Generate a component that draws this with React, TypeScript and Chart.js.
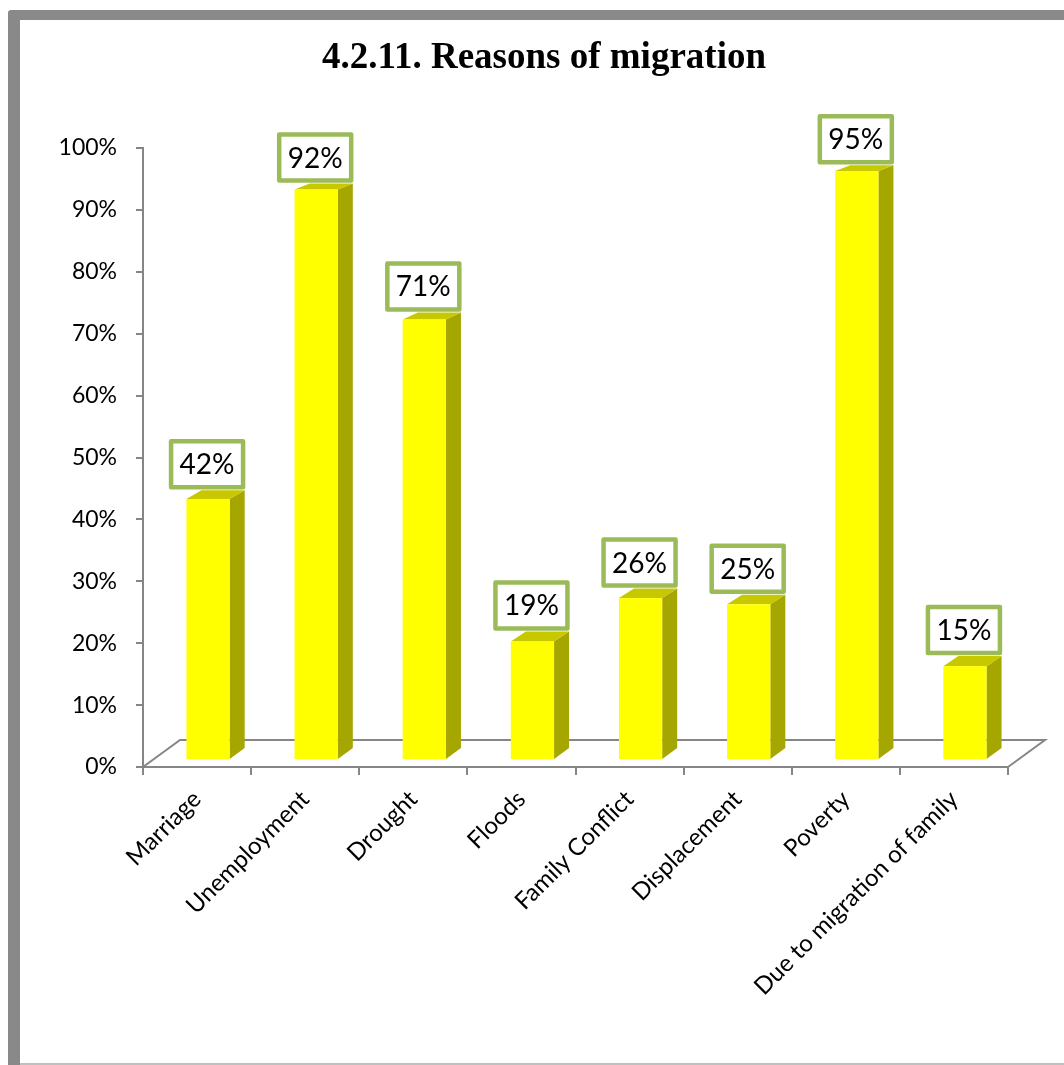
import React, { useEffect, useRef } from 'react';
import { Chart, registerables } from 'chart.js';

Chart.register(...registerables);

// Survey results: share of respondents naming each reason
const categories = [
  'Marriage',
  'Unemployment',
  'Drought',
  'Floods',
  'Family Conflict',
  'Displacement',
  'Poverty',
  'Due to migration of family',
];
const shares = [42, 92, 71, 19, 26, 25, 95, 15];
const yTickValues = [0, 10, 20, 30, 40, 50, 60, 70, 80, 90, 100];
const chartTitle = '4.2.11. Reasons of migration';

const W = 1064;
const H = 1065;

// 3D look
const FRONT = '#FFFF00';
const SIDE = '#A6A600';
const TOPFACE = '#C8C800';
const AXIS = '#868686';
const LABEL_BORDER = '#9BBB59';
const FLOOR_DX = 37;
const FLOOR_DY = 27;
const BAR_OFF_DX = 11;
const BAR_OFF_DY = 8;
const BAR_DEPTH_DX = 15;
const BAR_DEPTH_DY = 11;

// top faces flatten as bars approach eye level
const topDepth = (v: number) => BAR_DEPTH_DY - 5.5 * (v / 100);

const scenePlugin = {
  id: 'scene3d',
  beforeDraw(chart: any) {
    const ctx = chart.ctx;
    ctx.save();
    ctx.fillStyle = '#ffffff';
    ctx.fillRect(0, 0, W, H);
    // outer frame
    ctx.fillStyle = '#898989';
    ctx.beginPath();
    ctx.moveTo(8, H);
    ctx.lineTo(8, 13);
    ctx.quadraticCurveTo(8, 10, 11, 10);
    ctx.lineTo(W, 10);
    ctx.lineTo(W, 20);
    ctx.lineTo(20, 20);
    ctx.lineTo(20, H);
    ctx.closePath();
    ctx.fill();
    ctx.fillStyle = '#c0c0c0';
    ctx.fillRect(20, H - 2, W - 20, 2);
    // title
    ctx.fillStyle = '#000000';
    ctx.font = 'bold 37px "Liberation Serif"';
    ctx.textAlign = 'center';
    ctx.textBaseline = 'alphabetic';
    ctx.fillText(chartTitle, 544, 68);
    ctx.restore();
  },
  beforeDatasetsDraw(chart: any) {
    const ctx = chart.ctx;
    const { left, right, bottom } = chart.chartArea;
    ctx.save();
    ctx.strokeStyle = AXIS;
    ctx.lineWidth = 2;
    ctx.beginPath();
    ctx.moveTo(left, bottom);
    ctx.lineTo(left + FLOOR_DX, bottom - FLOOR_DY);
    ctx.lineTo(right + FLOOR_DX, bottom - FLOOR_DY);
    ctx.lineTo(right, bottom);
    ctx.stroke();
    ctx.restore();
  },
  afterDatasetsDraw(chart: any) {
    const ctx = chart.ctx;
    const meta = chart.getDatasetMeta(0);
    const yScale = chart.scales.y;
    const base = yScale.getPixelForValue(0) - BAR_OFF_DY;
    ctx.save();
    meta.data.forEach((el: any, i: number) => {
      const { x, width } = el.getProps(['x', 'width'], true);
      const top = yScale.getPixelForValue(shares[i]) - BAR_OFF_DY;
      const tdy = topDepth(shares[i]);
      const xl = x - width / 2 + BAR_OFF_DX;
      const xr = x + width / 2 + BAR_OFF_DX;
      // side face
      ctx.fillStyle = SIDE;
      ctx.beginPath();
      ctx.moveTo(xr, top);
      ctx.lineTo(xr + BAR_DEPTH_DX, top - tdy);
      ctx.lineTo(xr + BAR_DEPTH_DX, base - BAR_DEPTH_DY);
      ctx.lineTo(xr, base);
      ctx.closePath();
      ctx.fill();
      // top face
      ctx.fillStyle = TOPFACE;
      ctx.beginPath();
      ctx.moveTo(xl, top);
      ctx.lineTo(xl + BAR_DEPTH_DX, top - tdy);
      ctx.lineTo(xr + BAR_DEPTH_DX, top - tdy);
      ctx.lineTo(xr, top);
      ctx.closePath();
      ctx.fill();
      // front face
      ctx.fillStyle = FRONT;
      ctx.fillRect(xl, top, xr - xl, base - top);
    });
    // value labels
    meta.data.forEach((el: any, i: number) => {
      const { x } = el.getProps(['x'], true);
      const top = yScale.getPixelForValue(shares[i]) - BAR_OFF_DY;
      const cx = x + BAR_OFF_DX - 1;
      const bw = 72;
      const bh = 46;
      const by = top - topDepth(shares[i]) - 3 - bh;
      ctx.fillStyle = '#ffffff';
      ctx.strokeStyle = LABEL_BORDER;
      ctx.lineWidth = 4.5;
      ctx.lineJoin = 'round';
      ctx.beginPath();
      ctx.rect(cx - bw / 2, by, bw, bh);
      ctx.fill();
      ctx.stroke();
      ctx.fillStyle = '#000000';
      ctx.font = '28px Lato';
      ctx.textAlign = 'center';
      ctx.textBaseline = 'middle';
      ctx.fillText(shares[i] + '%', cx, by + bh / 2 + 1);
    });
    ctx.restore();
  },
};

export default function App() {
  const canvasRef = useRef<HTMLCanvasElement | null>(null);

  useEffect(() => {
    document.body.style.margin = '0';
    const canvas = canvasRef.current;
    if (!canvas) return;
    const chart = new Chart(canvas, {
      type: 'bar',
      data: {
        labels: categories,
        datasets: [
          {
            data: shares,
            backgroundColor: 'rgba(0,0,0,0)',
            borderWidth: 0,
            barPercentage: 0.4,
            categoryPercentage: 1,
          },
        ],
      },
      options: {
        responsive: false,
        animation: false,
        devicePixelRatio: 1,
        layout: { padding: { top: 148, right: 56, left: 0, bottom: 0 } },
        plugins: {
          legend: { display: false },
          title: { display: false },
          tooltip: { enabled: false },
        },
        scales: {
          x: {
            afterFit(scale: any) {
              scale.height = H - 767;
            },
            grid: {
              offset: true,
              drawOnChartArea: false,
              tickLength: 8,
              color: AXIS,
              lineWidth: 2,
            },
            border: { display: true, color: AXIS, width: 2 },
            ticks: {
              autoSkip: false,
              minRotation: 45,
              maxRotation: 45,
              padding: 10,
              color: '#000000',
              font: { family: 'Lato', size: 24 },
            },
          },
          y: {
            min: 0,
            max: 100,
            afterFit(scale: any) {
              scale.width = 143;
            },
            afterBuildTicks(scale: any) {
              scale.ticks = yTickValues.map((v) => ({ value: v }));
            },
            grid: {
              drawOnChartArea: false,
              tickLength: 7,
              color: AXIS,
              lineWidth: 2,
            },
            border: { display: true, color: AXIS, width: 2 },
            ticks: {
              padding: 19,
              color: '#000000',
              font: { family: 'Lato', size: 23 },
              callback: (v: any) => v + '%',
            },
          },
        },
      },
      plugins: [scenePlugin],
    });
    return () => chart.destroy();
  }, []);

  return (
    <canvas
      ref={canvasRef}
      width={W}
      height={H}
      style={{ display: 'block', width: W, height: H }}
    />
  );
}
